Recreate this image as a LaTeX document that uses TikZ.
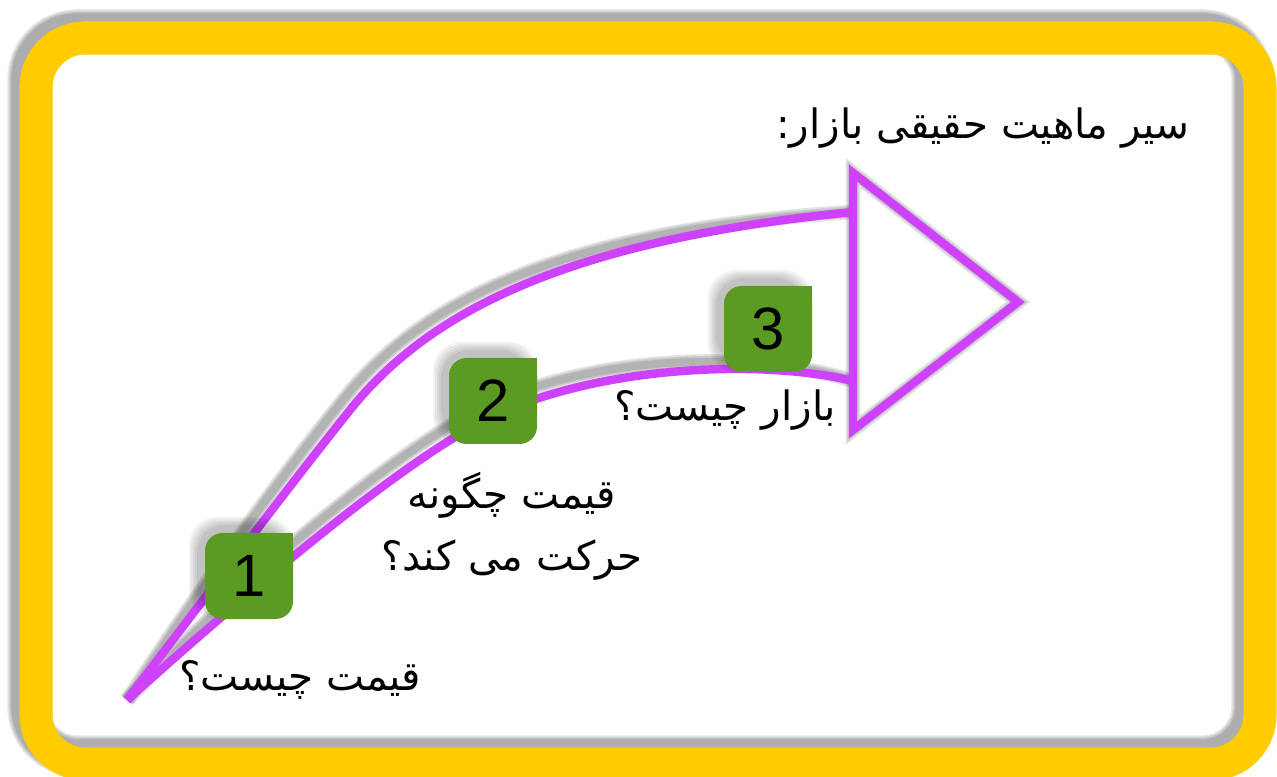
\documentclass[tikz,border=0pt]{standalone}
\usepackage{fontspec}
\setmainfont{Liberation Sans}
\newfontfamily\arabicfont[Script=Arabic]{DejaVu Sans}
\TeXXeTstate=1

\definecolor{framegold}{RGB}{255,204,0}
\definecolor{arrowpurple}{RGB}{206,66,255}
\definecolor{badgegreen}{RGB}{91,155,36}

\tikzset{
  softshadow/.style={draw=black, opacity=0.11, line width=#1},
  arrowline/.style={draw=arrowpurple, line width=2.4pt},
  fatext/.style={font=\arabicfont\fontsize{11.5pt}{17.6pt}\selectfont, inner sep=0pt},
  numtext/.style={font=\fontsize{17pt}{17pt}\selectfont, inner sep=0pt}
}

\begin{document}
\begin{tikzpicture}[x=0.01cm, y=-0.01cm]
  \def \upperedge {(tail) .. controls (230,565) and (290,485) .. (350,410) .. controls (430,310) and (570,240) .. (upend)}
  \def \loweredge {(tail) .. controls (250,590) and (380,480) .. (470,428) .. controls (580,365) and (760,358) .. (lowend)}
  \def \headedge {(headtop) -- (tip) -- (headbot) -- cycle}
  \def \framepath {[rounded corners=14pt] (36,38) rectangle (1260,764)}

  \fill[white] (0,0) rectangle (1277,777);
  \useasboundingbox (0,0) rectangle (1277,777);

  % frame with its shadow
  \foreach \w in {9.4,10.2,11,11.8} {
    \draw[softshadow=\w pt, opacity=0.09, shift={(-8,-8)}] \framepath;
  }
  \draw[framegold, line width=9.4pt] \framepath;

  \coordinate (tail) at (127,700);
  \coordinate (upend) at (853,212);
  \coordinate (lowend) at (853,381);
  \coordinate (headtop) at (853,173);
  \coordinate (tip) at (1018,302);
  \coordinate (headbot) at (853,430);

  % shadow of the arrow
  \foreach \w in {2.2,3.2,4.2} {
    \draw[softshadow=\w pt, shift={(-7,-10)}] \upperedge;
    \draw[softshadow=\w pt, shift={(-7,-10)}] \loweredge;
    \draw[softshadow=\w pt, shift={(-7,-10)}] \headedge;
  }
  \draw[arrowline] \upperedge;
  \draw[arrowline] \loweredge;
  \draw[arrowline] \headedge;

  % the three steps
  \foreach \n/\x/\y in {1/249/576, 2/493/401, 3/768/329} {
    \foreach \k in {0,2,4,6,8}
      \fill[black, opacity=0.05, rounded corners=8pt] (\x-52-\k,\y-51-\k) rectangle (\x+36+\k,\y+35+\k);
    \fill[badgegreen, rounded corners=5pt] (\x-44,\y-43) rectangle (\x+44,\y+43);
    \fill[badgegreen] (\x,\y-43) rectangle (\x+44,\y);
    \node[numtext] (b\n) at (\x,\y) {\n};
  }

  \node[fatext] (title) at (983,128) {\beginR سیر ماهیت حقیقی بازار:\endR};
  \node[fatext] (q1) at (300,680) {\beginR قیمت چیست؟\endR};
  \node[fatext, align=center] (q2) at (512,526) {\beginR قیمت چگونه\endR\\\beginR حرکت می کند؟\endR};
  \node[fatext] (q3) at (725,410) {\beginR بازار چیست؟\endR};
\end{tikzpicture}
\end{document}
